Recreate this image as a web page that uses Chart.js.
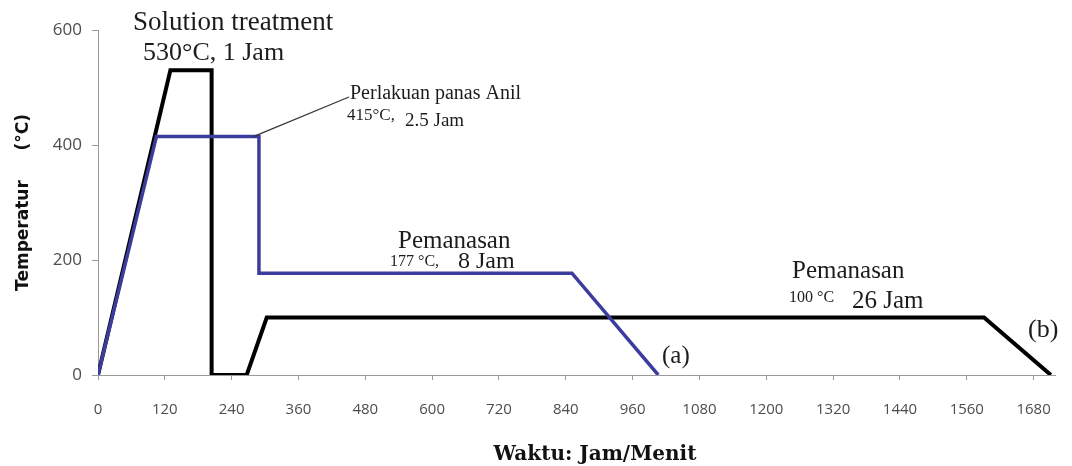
<!DOCTYPE html>
<html>
<head>
<meta charset="utf-8">
<script src="https://cdn.jsdelivr.net/npm/chart.js@4.4.1/dist/chart.umd.min.js"></script>
<style>
  html, body { margin: 0; padding: 0; background: #ffffff; }
  canvas { display: block; }
</style>
</head>
<body>
<canvas id="chart" width="1072" height="466"></canvas>
<script>
// Heat-treatment schedules: time against furnace temperature (°C)
const timeTicks = [0, 120, 240, 360, 480, 600, 720, 840, 960, 1080, 1200, 1320, 1440, 1560, 1680];
const tempTicks = [0, 200, 400, 600];

// (b) solution treatment 530 °C, quench, then heating at 100 °C
const solutionTime = [0, 130, 204, 204, 267, 303, 1591, 1711];
const solutionTemp = [0, 530, 530, 0, 0, 100, 100, 0];

// (a) anneal at 415 °C, then heating at 177 °C
const annealTime = [0, 105, 289, 289, 851, 1006];
const annealTemp = [0, 415, 415, 177, 177, 0];

const toPoints = (xs, ys) => xs.map((x, i) => ({ x: x, y: ys[i] }));

const serif = '"Liberation Serif", "Times New Roman", serif';
const ink = '#1c1c1c';

// Text notes written next to each stage of the schedules
const notes = {
  draw(chart) {
    const { ctx } = chart;
    const xs = chart.scales.x;
    const ys = chart.scales.y;
    const yv = v => ys.getPixelForValue(v);
    const text = (str, x, y, size, weight) => {
      ctx.font = (weight || 'normal') + ' ' + size + 'px ' + serif;
      ctx.fillText(str, x, y);
    };
    ctx.save();
    ctx.fillStyle = ink;
    ctx.textAlign = 'left';
    ctx.textBaseline = 'alphabetic';

    // solution treatment
    text('Solution treatment', 133, yv(530) - 40, 27);
    text('530°C, 1 Jam', 143, yv(530) - 10, 26);

    // anneal, with leader line to the hold
    ctx.strokeStyle = '#333333';
    ctx.lineWidth = 1.2;
    ctx.beginPath();
    ctx.moveTo(xs.getPixelForValue(280), yv(415));
    ctx.lineTo(349, 97);
    ctx.stroke();
    text('Perlakuan panas Anil', 350, 99, 20);
    text('415°C,', 347, 120, 17);
    text('2.5 Jam', 405, 126, 19);

    // heating at 177 °C
    text('Pemanasan', 398, yv(177) - 25, 25);
    text('177 °C,', 390, yv(177) - 7, 16);
    text('8 Jam', 458, yv(177) - 5, 24);

    // heating at 100 °C
    text('Pemanasan', 792, yv(100) - 40, 25);
    text('100 °C', 789, yv(100) - 16, 16);
    text('26 Jam', 852, yv(100) - 10, 25);

    // curve markers
    text('(a)', 662, 363, 25);
    text('(b)', 1028, 337, 26);

    // horizontal axis title
    ctx.textAlign = 'center';
    ctx.textBaseline = 'middle';
    ctx.font = 'bold 20px "DejaVu Serif", serif';
    ctx.fillStyle = '#111111';
    ctx.fillText('Waktu: Jam/Menit', 595, 455);
    ctx.restore();
  }
};

const notesPlugin = {
  id: 'stageNotes',
  afterDraw(chart) { notes.draw(chart); }
};

const axisGrey = '#9a9a9a';
const tickFamily = '"Open Sans", "DejaVu Sans", sans-serif';
const plainNumber = v => String(v);

new Chart(document.getElementById('chart'), {
  type: 'line',
  data: {
    datasets: [
      {
        label: '(a)',
        data: toPoints(annealTime, annealTemp),
        borderColor: '#3c3c9e',
        borderWidth: 3.5,
        pointRadius: 0,
        tension: 0,
        fill: false,
        order: 0
      },
      {
        label: '(b)',
        data: toPoints(solutionTime, solutionTemp),
        borderColor: '#000000',
        borderWidth: 4,
        pointRadius: 0,
        tension: 0,
        fill: false,
        order: 1
      }
    ]
  },
  options: {
    responsive: false,
    animation: false,
    devicePixelRatio: 1,
    layout: { padding: { top: 30, right: 10, bottom: 0, left: 0 } },
    plugins: {
      legend: { display: false },
      tooltip: { enabled: false },
      title: { display: false }
    },
    scales: {
      x: {
        type: 'linear',
        min: 0,
        max: 1720,
        afterBuildTicks: s => { s.ticks = timeTicks.map(v => ({ value: v })); },
        afterFit: s => { s.height = 91; },
        ticks: {
          includeBounds: false,
          color: '#4d4d4d',
          font: { family: tickFamily, size: 15 },
          padding: 21,
          maxRotation: 0,
          autoSkip: false,
          callback: plainNumber
        },
        grid: { drawOnChartArea: false, drawTicks: true, tickLength: 5, color: axisGrey },
        border: { display: true, color: axisGrey, width: 1 },
        title: { display: false }
      },
      y: {
        type: 'linear',
        min: 0,
        max: 600,
        afterBuildTicks: s => { s.ticks = tempTicks.map(v => ({ value: v })); },
        afterFit: s => { s.width = 98; },
        ticks: {
          color: '#4d4d4d',
          font: { family: tickFamily, size: 17 },
          padding: 10,
          callback: plainNumber
        },
        grid: { drawOnChartArea: false, drawTicks: true, tickLength: 6, color: axisGrey },
        border: { display: true, color: axisGrey, width: 1 },
        title: {
          display: true,
          text: 'Temperatur     (°C)',
          color: '#111111',
          font: { family: '"DejaVu Sans", sans-serif', size: 17, weight: 'bold' },
          padding: { top: 13, bottom: 0 }
        }
      }
    }
  },
  plugins: [notesPlugin]
});
</script>
</body>
</html>
